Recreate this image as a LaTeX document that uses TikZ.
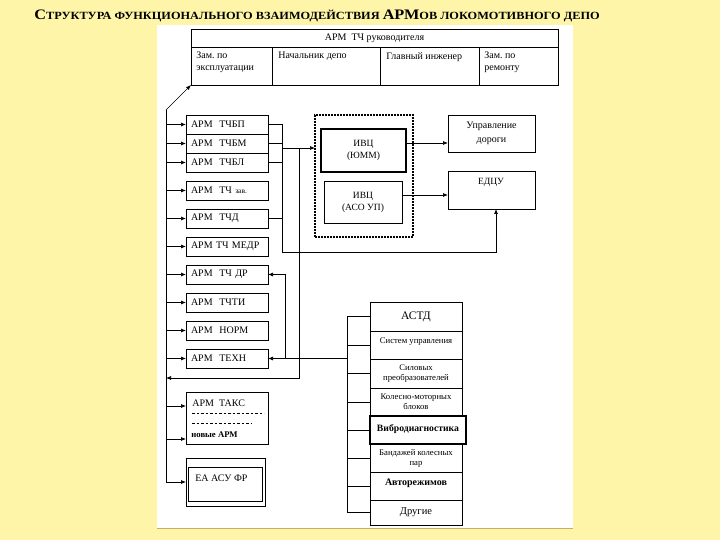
\documentclass[tikz,border=0pt]{standalone}
\usepackage{fontspec}
\setmainfont{Liberation Serif}
\usetikzlibrary{arrows.meta,positioning}

\definecolor{pageyellow}{RGB}{255,245,168}
\definecolor{panelrim}{RGB}{196,176,96}

\newcommand{\capbig}[1]{{\fontsize{14.5}{14.5}\selectfont #1}}
\newcommand{\capsmall}[1]{{\fontsize{11}{11}\selectfont #1}}

\tikzset{
  cell/.style={draw,line width=0.7pt,anchor=north west,inner sep=0pt,outer sep=0pt},
  celltxt/.style={anchor=north west,inner sep=0pt,align=left,font=\fontsize{10}{11.5}\selectfont},
  armbox/.style={cell,minimum height=19pt,text width=72pt,inner xsep=5pt,align=left,font=\fontsize{10}{10}\selectfont},
  astdrow/.style={cell,minimum width=92pt,align=center,font=\fontsize{8.7}{10}\selectfont},
}

\begin{document}
\begin{tikzpicture}[x=1pt,y=-1pt,>={Latex[length=5pt,width=4pt]},line width=0.7pt]
\useasboundingbox (0,0) rectangle (720,540);
\fill[pageyellow] (0,0) rectangle (720,540);
\fill[white] (157,25) rectangle (573,528);
\draw[panelrim,line width=1pt] (157,528.5) -- (573,528.5);

% title
\node[anchor=west,inner sep=0pt,font=\bfseries] (title) at (34,16)
  {\scalebox{1.12}[1]{\capbig{С}\capsmall{ТРУКТУРА ФУНКЦИОНАЛЬНОГО ВЗАИМОДЕЙСТВИЯ }\capbig{АРМ}\capsmall{ОВ ЛОКОМОТИВНОГО ДЕПО}}};

% table of the head
\node[cell,minimum width=367pt,minimum height=18pt,font=\fontsize{10}{10}\selectfont] (ruk) at (191,29) {АРМ\ \ ТЧ руководителя};
\node[cell,minimum width=81pt,minimum height=38pt] (zexp) at (191,47) {};
\node[cell,minimum width=108pt,minimum height=38pt] (nach) at (272,47) {};
\node[cell,minimum width=99pt,minimum height=38pt] (glav) at (380,47) {};
\node[cell,minimum width=79pt,minimum height=38pt] (zrem) at (479,47) {};
\node[celltxt] (zexpT) at ([shift={(5,5)}]zexp.north west) {Зам.\ по\\эксплуатации};
\node[celltxt] (nachT) at ([shift={(6,5)}]nach.north west) {Начальник депо};
\node[celltxt] (glavT) at ([shift={(6,5)}]glav.north west) {Главный инженер};
\node[celltxt] (zremT) at ([shift={(5,5)}]zrem.north west) {Зам.\ по\\ремонту};

% workstations on the left
\node[armbox] (tchbp) at (186,115) {АРМ\ \ ТЧБП};
\node[armbox] (tchbm) at (186,134) {АРМ\ \ ТЧБМ};
\node[armbox] (tchbl) at (186,153) {АРМ\ \ ТЧБЛ};
\node[armbox] (tchzav) at (186,181) {АРМ\ \ ТЧ {\fontsize{7.5}{8}\selectfont зав.}};
\node[armbox] (tchd) at (186,209) {АРМ\ \ ТЧД};
\node[armbox] (medr) at (186,237) {АРМ ТЧ МЕДР};
\node[armbox] (tchdr) at (186,265) {АРМ\ \ ТЧ ДР};
\node[armbox] (tchti) at (186,293) {АРМ\ \ ТЧТИ};
\node[armbox] (norm) at (186,321) {АРМ\ \ НОРМ};
\node[armbox] (tehn) at (186,349) {АРМ\ \ ТЕХН};

\node[cell,minimum width=82pt,minimum height=52pt] (takc) at (186,392) {};
\node[anchor=west,inner sep=0pt,font=\fontsize{10}{10}\selectfont] (takcT) at (192,403) {АРМ\ \ ТАКС};
\draw[dash pattern=on 2.5pt off 2pt,line width=0.5pt] (192,413) -- (264,413);
\draw[dash pattern=on 2.5pt off 2pt,line width=0.5pt] (192,423) -- (251,423);
\node[anchor=west,inner sep=0pt,font=\bfseries\fontsize{8.7}{9}\selectfont] (novye) at (191,435) {новые АРМ};

\node[cell,minimum width=79pt,minimum height=48pt] (eaout) at (186,458) {};
\node[cell,minimum width=74pt,minimum height=34pt] (eain) at (188,467) {};
\node[anchor=west,inner sep=0pt,font=\fontsize{10}{10}\selectfont] (eaT) at (195,478) {ЕА АСУ ФР};

% computing centre
\node[cell,line width=1.2pt,dash pattern=on 2pt off 1pt,minimum width=98pt,minimum height=122pt] (ivc) at (315,115) {};
\node[cell,line width=1.3pt,minimum width=85pt,minimum height=43pt,align=center,font=\fontsize{9.5}{12}\selectfont] (iumm) at (321,129) {ИВЦ\\(ЮММ)};
\node[cell,line width=0.5pt,minimum width=78pt,minimum height=42pt,align=center,font=\fontsize{9.5}{12}\selectfont] (asoup) at (324,181) {ИВЦ\\(АСО УП)};
\node[cell,minimum width=87pt,minimum height=37pt,align=center,font=\fontsize{10}{14}\selectfont] (upr) at (448,115) {Управление\\дороги};
\node[cell,minimum width=87pt,minimum height=38pt] (edcu) at (448,171) {};
\node[inner sep=0pt,font=\fontsize{9.5}{10}\selectfont] (edcuT) at (491,182) {ЕДЦУ};

% diagnostics
\node[astdrow,minimum height=29pt,font=\fontsize{11.5}{11.5}\selectfont] (astd) at (370,302) {АСТД};
\node[astdrow,minimum height=28pt,text depth=9pt] (sysupr) at (370,331) {Систем управления};
\node[astdrow,minimum height=29pt] (silov) at (370,359) {Силовых\\преобразователей};
\node[astdrow,minimum height=28pt] (kmb) at (370,388) {Колесно-моторных\\блоков};
\node[astdrow,line width=1.1pt,minimum width=96pt,minimum height=28pt,text depth=3pt,font=\bfseries\fontsize{9.7}{10}\selectfont] (vibro) at (370,416) {Вибродиагностика};
\node[astdrow,minimum height=28pt] (band) at (370,444) {Бандажей колесных\\пар};
\node[astdrow,minimum height=28pt,text depth=8pt,font=\bfseries\fontsize{10}{10}\selectfont] (avto) at (370,472) {Авторежимов};
\node[astdrow,minimum height=25pt,font=\fontsize{10.5}{10.5}\selectfont] (drug) at (370,500) {Другие};

% bus on the left
\coordinate (bustop) at (166,110);
\coordinate (busbot) at (166,482);
\draw (bustop) -- (busbot);
\draw[->] (bustop) -- (zexp.south west);
\draw[->] (bustop |- tchbp.west) -- (tchbp.west);
\draw[->] (bustop |- tchbm.west) -- (tchbm.west);
\draw[->] (bustop |- tchbl.west) -- (tchbl.west);
\draw[->] (bustop |- tchzav.west) -- (tchzav.west);
\draw[->] (bustop |- tchd.west) -- (tchd.west);
\draw[->] (bustop |- medr.west) -- (medr.west);
\draw[->] (bustop |- tchdr.west) -- (tchdr.west);
\draw[->] (bustop |- tchti.west) -- (tchti.west);
\draw[->] (bustop |- norm.west) -- (norm.west);
\draw[->] (bustop |- tehn.west) -- (tehn.west);
\coordinate (takcA) at (186,406);
\coordinate (takcB) at (186,439);
\draw[->] (bustop |- takcA) -- (takcA);
\draw[->] (bustop |- takcB) -- (takcB);
\draw[->] (busbot) -- (eaout.west);

% links to the computing centre
\coordinate (colA) at (282,0);
\coordinate (lowA) at (282,252);
\coordinate (feedA) at (282,148);
\coordinate (edcuin) at (496,0);
\draw (tchbp.east) -- (colA |- tchbp.east);
\draw (tchbm.east) -- (colA |- tchbm.east);
\draw (tchbl.east) -- (colA |- tchbl.east);
\draw (tchd.east) -- (colA |- tchd.east);
\draw[->] (colA |- tchbp.east) -- (lowA) -| (edcuin |- edcu.south);
\draw[->] (feedA) -- (feedA -| ivc.west);
\coordinate (colB) at (299,148);
\coordinate (backB) at (299,378);
\draw[->] (colB) -- (backB) -- (backB -| bustop);
\coordinate (ummout) at (406,143);
\coordinate (asoout) at (402,195);
\draw[->] (ummout) -- (ummout -| upr.west);
\draw[->] (asoout) -- (asoout -| edcu.west);

% links to diagnostics
\coordinate (colC) at (285,0);
\coordinate (astdbus) at (347,0);
\draw[->] (colC |- tehn.east) -- (tehn.east);
\draw[->] (colC |- tehn.east) |- (tchdr.east);
\draw (colC |- tehn.east) -- (astdbus |- tehn.east);
\draw (astdbus |- astd.west) -- (astdbus |- drug.west);
\draw (astdbus |- astd.west) -- (astd.west);
\draw (astdbus |- sysupr.west) -- (sysupr.west);
\draw (astdbus |- silov.west) -- (silov.west);
\draw (astdbus |- kmb.west) -- (kmb.west);
\draw (astdbus |- vibro.west) -- (vibro.west);
\draw (astdbus |- band.west) -- (band.west);
\draw (astdbus |- avto.west) -- (avto.west);
\draw (astdbus |- drug.west) -- (drug.west);
\end{tikzpicture}
\end{document}
